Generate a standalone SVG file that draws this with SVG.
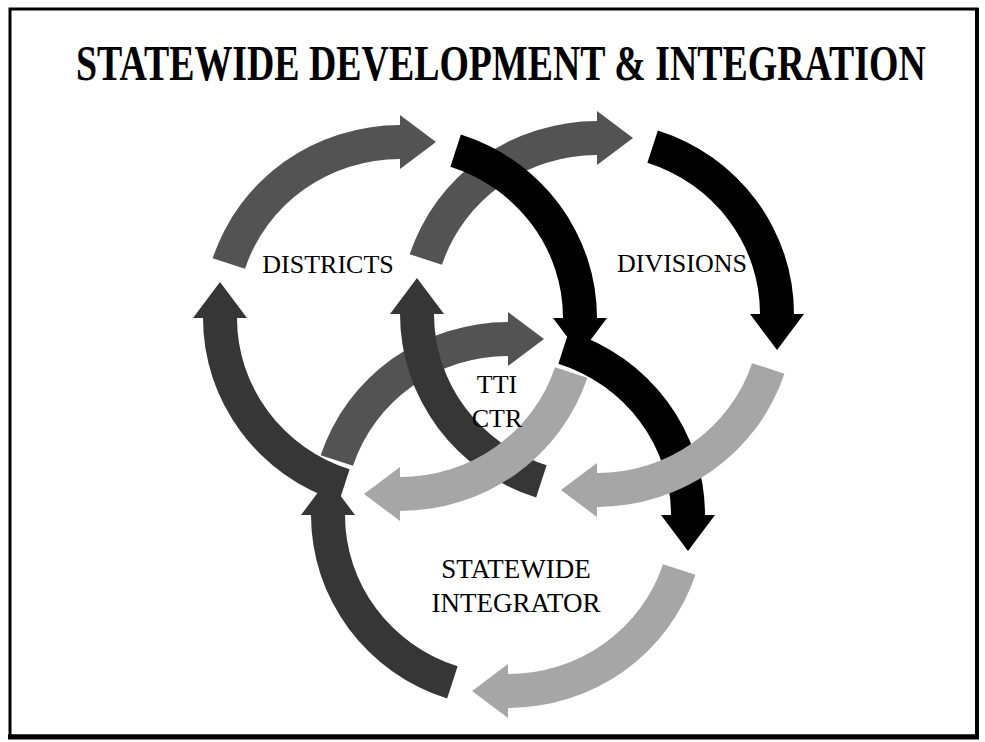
<svg xmlns="http://www.w3.org/2000/svg" width="985" height="742" viewBox="0 0 985 742">
<style>
.lbl{font-family:"Liberation Serif","Times New Roman",serif;font-size:26px;fill:#000;text-anchor:middle}
.big{font-size:27px}
.title{font-family:"Liberation Serif","Times New Roman",serif;font-weight:bold;font-size:50px;fill:#000}
.top{fill:#535353}
.right{fill:#000}
.bottom{fill:#a6a6a6}
.left{fill:#363636}
</style>
<defs>
<path id="arcTop" d="M-187.36,-59.64 A197,193 0 0 1 0,-193 L0,-203 L36,-176 L0,-149 L0,-159 A163,159 0 0 0 -155.02,-49.13 Z"/>
<path id="arcRight" d="M60.88,-183.55 A197,193 0 0 1 197,0 L207,0 L180,36 L153,0 L163,0 A163,159 0 0 0 50.37,-151.22 Z"/>
<path id="arcBottom" d="M187.36,59.64 A197,193 0 0 1 0,193 L0,203 L-36,176 L0,149 L0,159 A163,159 0 0 0 155.02,49.13 Z"/>
<path id="arcLeft" d="M-60.88,183.55 A197,193 0 0 1 -197,0 L-207,0 L-180,-36 L-153,0 L-163,0 A163,159 0 0 0 -50.37,151.22 Z"/>
</defs>
<rect width="985" height="742" fill="#fff"/>
<g id="frame" fill="none" stroke="#000">
<rect x="10" y="9" width="967" height="727" stroke-width="3"/>
<line x1="8" y1="737" x2="979" y2="737" stroke-width="5"/>
<line x1="977" y1="8" x2="977" y2="739" stroke-width="4"/>
</g>
<text class="title" transform="matrix(0.757,0,0,1,76,80)" x="0" y="0">STATEWIDE DEVELOPMENT &amp; INTEGRATION</text>
<g id="connectors">
<use href="#arcTop" class="top" transform="translate(508,515)"/>
<use href="#arcLeft" class="left" transform="translate(597,314)"/>
<use href="#arcBottom" class="bottom" transform="translate(400,318)"/>
<use href="#arcTop" class="top" transform="translate(597,314)"/>
<use href="#arcRight" class="right" transform="translate(400,318)"/>
<use href="#arcRight" class="right" transform="translate(508,515)"/>
<use href="#arcBottom" class="bottom" transform="translate(597,314)"/>
<use href="#arcTop" class="top" transform="translate(400,318)"/>
<use href="#arcLeft" class="left" transform="translate(400,318)"/>
<use href="#arcRight" class="right" transform="translate(597,314)"/>
<use href="#arcBottom" class="bottom" transform="translate(508,515)"/>
<use href="#arcLeft" class="left" transform="translate(508,515)"/>
</g>
<g id="districts"><text class="lbl" x="328" y="273">DISTRICTS</text></g>
<g id="divisions"><text class="lbl" x="682" y="272">DIVISIONS</text></g>
<g id="tticenter"><text class="lbl" x="497" y="393">TTI</text><text class="lbl" x="497" y="427">CTR</text></g>
<g id="statewide"><text class="lbl big" x="516" y="578">STATEWIDE</text><text class="lbl big" x="516" y="612">INTEGRATOR</text></g>
</svg>
